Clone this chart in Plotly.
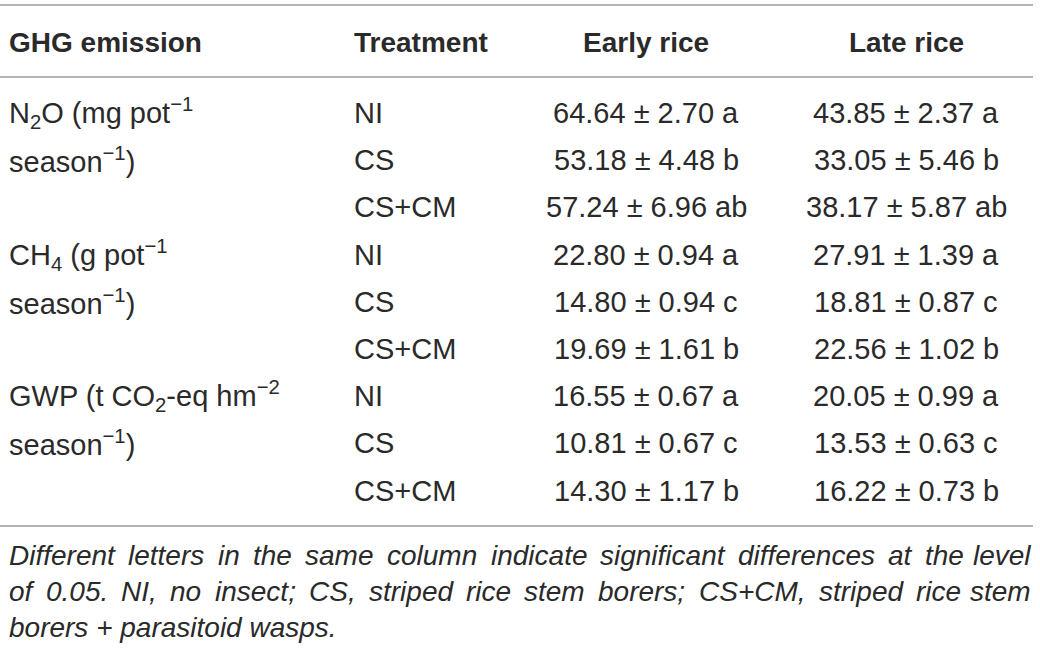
import plotly.graph_objects as go

# ---------------- data ----------------
headers = ["GHG emission", "Treatment", "Early rice", "Late rice"]
gas_labels = [
    ["N<sub>2</sub>O (mg pot<sup>−1</sup>", "season<sup>−1</sup>)"],
    ["CH<sub>4</sub> (g pot<sup>−1</sup>", "season<sup>−1</sup>)"],
    ["GWP (t CO<sub>2</sub>-eq hm<sup>−2</sup>", "season<sup>−1</sup>)"],
]
treatments = ["NI", "CS", "CS+CM"]
early_mean = [[64.64, 53.18, 57.24], [22.80, 14.80, 19.69], [16.55, 10.81, 14.30]]
early_sd = [[2.70, 4.48, 6.96], [0.94, 0.94, 1.61], [0.67, 0.67, 1.17]]
early_letter = [["a", "b", "ab"], ["a", "c", "b"], ["a", "c", "b"]]
late_mean = [[43.85, 33.05, 38.17], [27.91, 18.81, 22.56], [20.05, 13.53, 16.22]]
late_sd = [[2.37, 5.46, 5.87], [1.39, 0.87, 1.02], [0.99, 0.63, 0.73]]
late_letter = [["a", "b", "ab"], ["a", "c", "b"], ["a", "c", "b"]]
footnote_lines = [
    "Different letters in the same column indicate significant differences at the level",
    "of 0.05. NI, no insect; CS, striped rice stem borers; CS+CM, striped rice stem",
    "borers + parasitoid wasps.",
]

# ---------------- layout constants ----------------
W, H = 1040, 650
FONT = "Liberation Sans, Arial, Helvetica, sans-serif"
TXT = "#2a2a2a"
RULE = "#9b9b9b"
FS = 29
FS_HEAD = 28
FS_NOTE = 28
col_x = [7, 352, 646, 906]
header_y = 42
row_y0, row_step = 113, 47.2
note_y0, note_step = 555, 36.3
note_x0, note_x1 = 7, 1033

fig = go.Figure()
fig.add_trace(go.Scatter(x=[0, W], y=[0, H], mode="markers", marker=dict(opacity=0),
                         hoverinfo="skip", showlegend=False))

ann = []
# headers
for i, h in enumerate(headers):
    ann.append(dict(x=col_x[i], y=header_y, text="<b>%s</b>" % h,
                    xanchor="left" if i < 2 else "center", yanchor="middle",
                    font=dict(size=FS_HEAD, color=TXT, family=FONT)))

# body
for g in range(len(gas_labels)):
    for j, lab in enumerate(gas_labels[g]):
        ann.append(dict(x=col_x[0], y=row_y0 + (3 * g + j) * row_step, text=lab,
                        xanchor="left", yanchor="middle",
                        font=dict(size=FS, color=TXT, family=FONT)))
    for t in range(len(treatments)):
        y = row_y0 + (3 * g + t) * row_step
        ann.append(dict(x=col_x[1], y=y, text=treatments[t], xanchor="left", yanchor="middle",
                        font=dict(size=FS, color=TXT, family=FONT)))
        ann.append(dict(x=col_x[2], y=y,
                        text="%.2f ± %.2f %s" % (early_mean[g][t], early_sd[g][t], early_letter[g][t]),
                        xanchor="center", yanchor="middle",
                        font=dict(size=FS, color=TXT, family=FONT)))
        ann.append(dict(x=col_x[3], y=y,
                        text="%.2f ± %.2f %s" % (late_mean[g][t], late_sd[g][t], late_letter[g][t]),
                        xanchor="center", yanchor="middle",
                        font=dict(size=FS, color=TXT, family=FONT)))

# footnote, justified using Helvetica/Arial metrics
AFM = {' ': 278, ',': 278, '.': 278, ';': 278, '+': 584, '-': 333}
for c in "0123456789":
    AFM[c] = 556
AFM.update(dict(A=667, B=667, C=722, D=722, E=667, F=611, G=778, H=722, I=278, J=500, K=667,
                L=556, M=833, N=722, O=778, P=667, Q=778, R=722, S=667, T=611, U=722, V=667,
                W=944, X=667, Y=667, Z=611))
AFM.update(dict(a=556, b=556, c=500, d=556, e=556, f=278, g=556, h=556, i=222, j=222, k=500,
                l=222, m=833, n=556, o=556, p=556, q=556, r=333, s=500, t=278, u=556, v=500,
                w=722, x=500, y=500, z=500))


def tw(s):
    return sum(AFM.get(c, 556) for c in s) / 1000.0 * FS_NOTE


for k, line in enumerate(footnote_lines):
    y = note_y0 + k * note_step
    words = line.split(" ")
    if k < len(footnote_lines) - 1 and len(words) > 1:
        total = sum(tw(w) for w in words)
        gap = (note_x1 - note_x0 - total) / (len(words) - 1)
        x = note_x0
        for wi, w in enumerate(words):
            if wi == len(words) - 1:
                ann.append(dict(x=note_x1, y=y, text="<i>%s</i>" % w, xanchor="right",
                                yanchor="middle", font=dict(size=FS_NOTE, color=TXT, family=FONT)))
            else:
                ann.append(dict(x=x, y=y, text="<i>%s</i>" % w, xanchor="left",
                                yanchor="middle", font=dict(size=FS_NOTE, color=TXT, family=FONT)))
            x += tw(w) + gap
    else:
        ann.append(dict(x=note_x0, y=y, text="<i>%s</i>" % line, xanchor="left",
                        yanchor="middle", font=dict(size=FS_NOTE, color=TXT, family=FONT)))

for a in ann:
    a.update(xref="x", yref="y", showarrow=False)

shapes = []
for yy in [5, 77, 526]:
    shapes.append(dict(type="line", xref="x", yref="y", x0=0, x1=1033, y0=yy, y1=yy,
                       line=dict(color=RULE, width=1.5)))

fig.update_layout(
    width=W, height=H, margin=dict(l=0, r=0, t=0, b=0),
    paper_bgcolor="white", plot_bgcolor="white",
    xaxis=dict(range=[0, W], visible=False, fixedrange=True),
    yaxis=dict(range=[H, 0], visible=False, fixedrange=True),
    annotations=ann, shapes=shapes, showlegend=False,
)
fig.write_html("out.html", config={"displayModeBar": False},
               post_script="document.body.style.margin='0';document.body.style.overflow='hidden';")
